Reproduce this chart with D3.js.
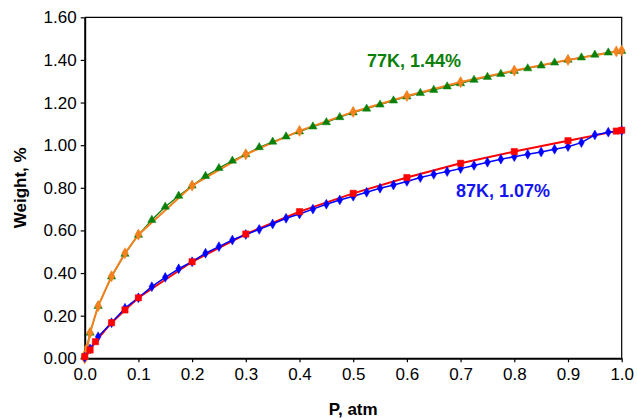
<!DOCTYPE html>
<html>
<head>
<meta charset="utf-8">
<script src="https://cdn.jsdelivr.net/npm/d3@7"></script>
<style>
  html, body { margin: 0; padding: 0; background: #fff; }
  svg { display: block; font-family: Arial, "Liberation Sans", sans-serif; }
</style>
</head>
<body>
<svg id="chart" width="637" height="418"></svg>
<script>
// Measured uptake, 77 K (dense points)
const p77 = [0, 0.01, 0.025, 0.05, 0.075, 0.1, 0.125, 0.15, 0.175, 0.2, 0.225, 0.25, 0.275, 0.3, 0.325, 0.35, 0.375, 0.4, 0.425, 0.45, 0.475, 0.5, 0.525, 0.55, 0.575, 0.6, 0.625, 0.65, 0.675, 0.7, 0.725, 0.75, 0.775, 0.8, 0.825, 0.85, 0.875, 0.9, 0.925, 0.95, 0.975, 1.0];
const w77 = [0.008, 0.12, 0.245, 0.383, 0.49, 0.579, 0.649, 0.711, 0.762, 0.81, 0.855, 0.892, 0.927, 0.957, 0.99, 1.016, 1.04, 1.064, 1.087, 1.107, 1.131, 1.153, 1.171, 1.19, 1.209, 1.228, 1.244, 1.259, 1.275, 1.29, 1.306, 1.32, 1.334, 1.348, 1.36, 1.373, 1.387, 1.40, 1.411, 1.424, 1.434, 1.442];

// Reference curve, 77 K
const p77Fit = [0, 0.002, 0.005, 0.01, 0.025, 0.05, 0.075, 0.1, 0.2, 0.3, 0.4, 0.5, 0.6, 0.7, 0.8, 0.9, 0.99, 1.0];
const w77Fit = [0, 0.023, 0.05, 0.12, 0.245, 0.385, 0.493, 0.58, 0.81, 0.957, 1.067, 1.156, 1.231, 1.296, 1.35, 1.40, 1.44, 1.444];

// Measured uptake, 87 K (dense points)
const p87 = [0, 0.01, 0.025, 0.05, 0.075, 0.1, 0.125, 0.15, 0.175, 0.2, 0.225, 0.25, 0.275, 0.3, 0.325, 0.35, 0.375, 0.4, 0.425, 0.45, 0.475, 0.5, 0.525, 0.55, 0.575, 0.6, 0.625, 0.65, 0.675, 0.7, 0.725, 0.75, 0.775, 0.8, 0.825, 0.85, 0.875, 0.9, 0.925, 0.95, 0.975, 1.0];
const w87 = [0.005, 0.044, 0.101, 0.167, 0.235, 0.284, 0.336, 0.38, 0.42, 0.453, 0.493, 0.524, 0.555, 0.581, 0.605, 0.63, 0.657, 0.677, 0.70, 0.723, 0.743, 0.76, 0.779, 0.798, 0.813, 0.83, 0.848, 0.863, 0.876, 0.89, 0.905, 0.92, 0.934, 0.946, 0.957, 0.968, 0.981, 0.993, 1.012, 1.048, 1.061, 1.068];

// Reference curve, 87 K
const p87Fit = [0, 0.01, 0.02, 0.05, 0.075, 0.1, 0.2, 0.3, 0.4, 0.5, 0.6, 0.7, 0.8, 0.9, 0.99, 1.0];
const w87Fit = [0.008, 0.039, 0.078, 0.167, 0.227, 0.284, 0.453, 0.583, 0.688, 0.774, 0.848, 0.915, 0.97, 1.021, 1.066, 1.07];

const xTicks = [0, 0.1, 0.2, 0.3, 0.4, 0.5, 0.6, 0.7, 0.8, 0.9, 1.0];
const yTicks = [0, 0.2, 0.4, 0.6, 0.8, 1.0, 1.2, 1.4, 1.6];
const labels = [
  { text: "77K, 1.44%", color: "#0a800a" },
  { text: "87K, 1.07%", color: "#1414f0" }
];

const svg = d3.select("#chart");
const plotL = 84.7, plotR = 621.7, plotT = 17.3, plotB = 358.3;

const x = d3.scaleLinear().domain([0, 1]).range([plotL, plotR]);
const y = d3.scaleLinear().domain([0, 1.6]).range([plotB, plotT]);

// Frame: thin top/right border
svg.append("path")
  .attr("d", `M${plotL},${plotT}H${plotR}V${plotB}`)
  .attr("fill", "none").attr("stroke", "#000").attr("stroke-width", 1.2);

// Axes
const xAxis = svg.append("g").attr("transform", `translate(0,${plotB})`)
  .call(d3.axisBottom(x).tickValues(xTicks).tickFormat(d3.format(".1f")).tickSizeInner(4).tickSizeOuter(0).tickPadding(6));
const yAxis = svg.append("g").attr("transform", `translate(${plotL},0)`)
  .call(d3.axisLeft(y).tickValues(yTicks).tickFormat(d3.format(".2f")).tickSizeInner(4).tickSizeOuter(0).tickPadding(4));

[xAxis, yAxis].forEach(g => {
  g.select(".domain").attr("stroke", "#000").attr("stroke-width", 2);
  g.selectAll(".tick line").attr("stroke", "#000").attr("stroke-width", 1.2);
  g.selectAll(".tick text").attr("fill", "#000").style("font-size", "17px")
    .style("font-family", "Arial, 'Liberation Sans', sans-serif");
});

// Axis titles
svg.append("text").attr("x", (plotL + plotR) / 2).attr("y", 415)
  .attr("text-anchor", "middle").style("font-size", "17px").style("font-weight", "bold")
  .text("P, atm");
svg.append("text").attr("transform", `translate(26,${(plotT + plotB) / 2}) rotate(-90)`)
  .attr("text-anchor", "middle").style("font-size", "17px").style("font-weight", "bold")
  .text("Weight, %");

const line = d3.line().x(d => x(d[0])).y(d => y(d[1]));
const zip = (a, b) => a.map((v, i) => [v, b[i]]);

function drawLine(pts, color, width) {
  svg.append("path").datum(pts).attr("d", line)
    .attr("fill", "none").attr("stroke", color).attr("stroke-width", width)
    .attr("stroke-linejoin", "round");
}
function drawMarkers(pts, type, size, color) {
  svg.append("g").selectAll("path").data(pts).join("path")
    .attr("transform", d => `translate(${x(d[0])},${y(d[1])})`)
    .attr("d", d3.symbol().type(type).size(size))
    .attr("fill", color).attr("stroke", color).attr("stroke-width", 0.5);
}

const d77 = zip(p77, w77), f77 = zip(p77Fit, w77Fit);
const d87 = zip(p87, w87), f87 = zip(p87Fit, w87Fit);

// 77 K: measured line under the orange curve, markers on top
drawLine(d77, "#0a800a", 1.3);
drawLine(f77, "#f5801e", 2);
drawMarkers(d77, d3.symbolTriangle, 30, "#0a800a");
drawMarkers(f77, d3.symbolDiamond, 36, "#f5801e");

// 87 K
drawLine(f87, "#ff0000", 2);
drawLine(d87, "#0000ff", 1.5);
drawMarkers(d87, d3.symbolDiamond, 28, "#0000ff");
drawMarkers(f87, d3.symbolSquare, 40, "#ff0000");

// Series annotations
svg.append("text").attr("x", 367).attr("y", 67).attr("fill", labels[0].color)
  .style("font-size", "18px").style("font-weight", "bold").text(labels[0].text);
svg.append("text").attr("x", 456).attr("y", 197).attr("fill", labels[1].color)
  .style("font-size", "18px").style("font-weight", "bold").text(labels[1].text);
</script>
</body>
</html>
